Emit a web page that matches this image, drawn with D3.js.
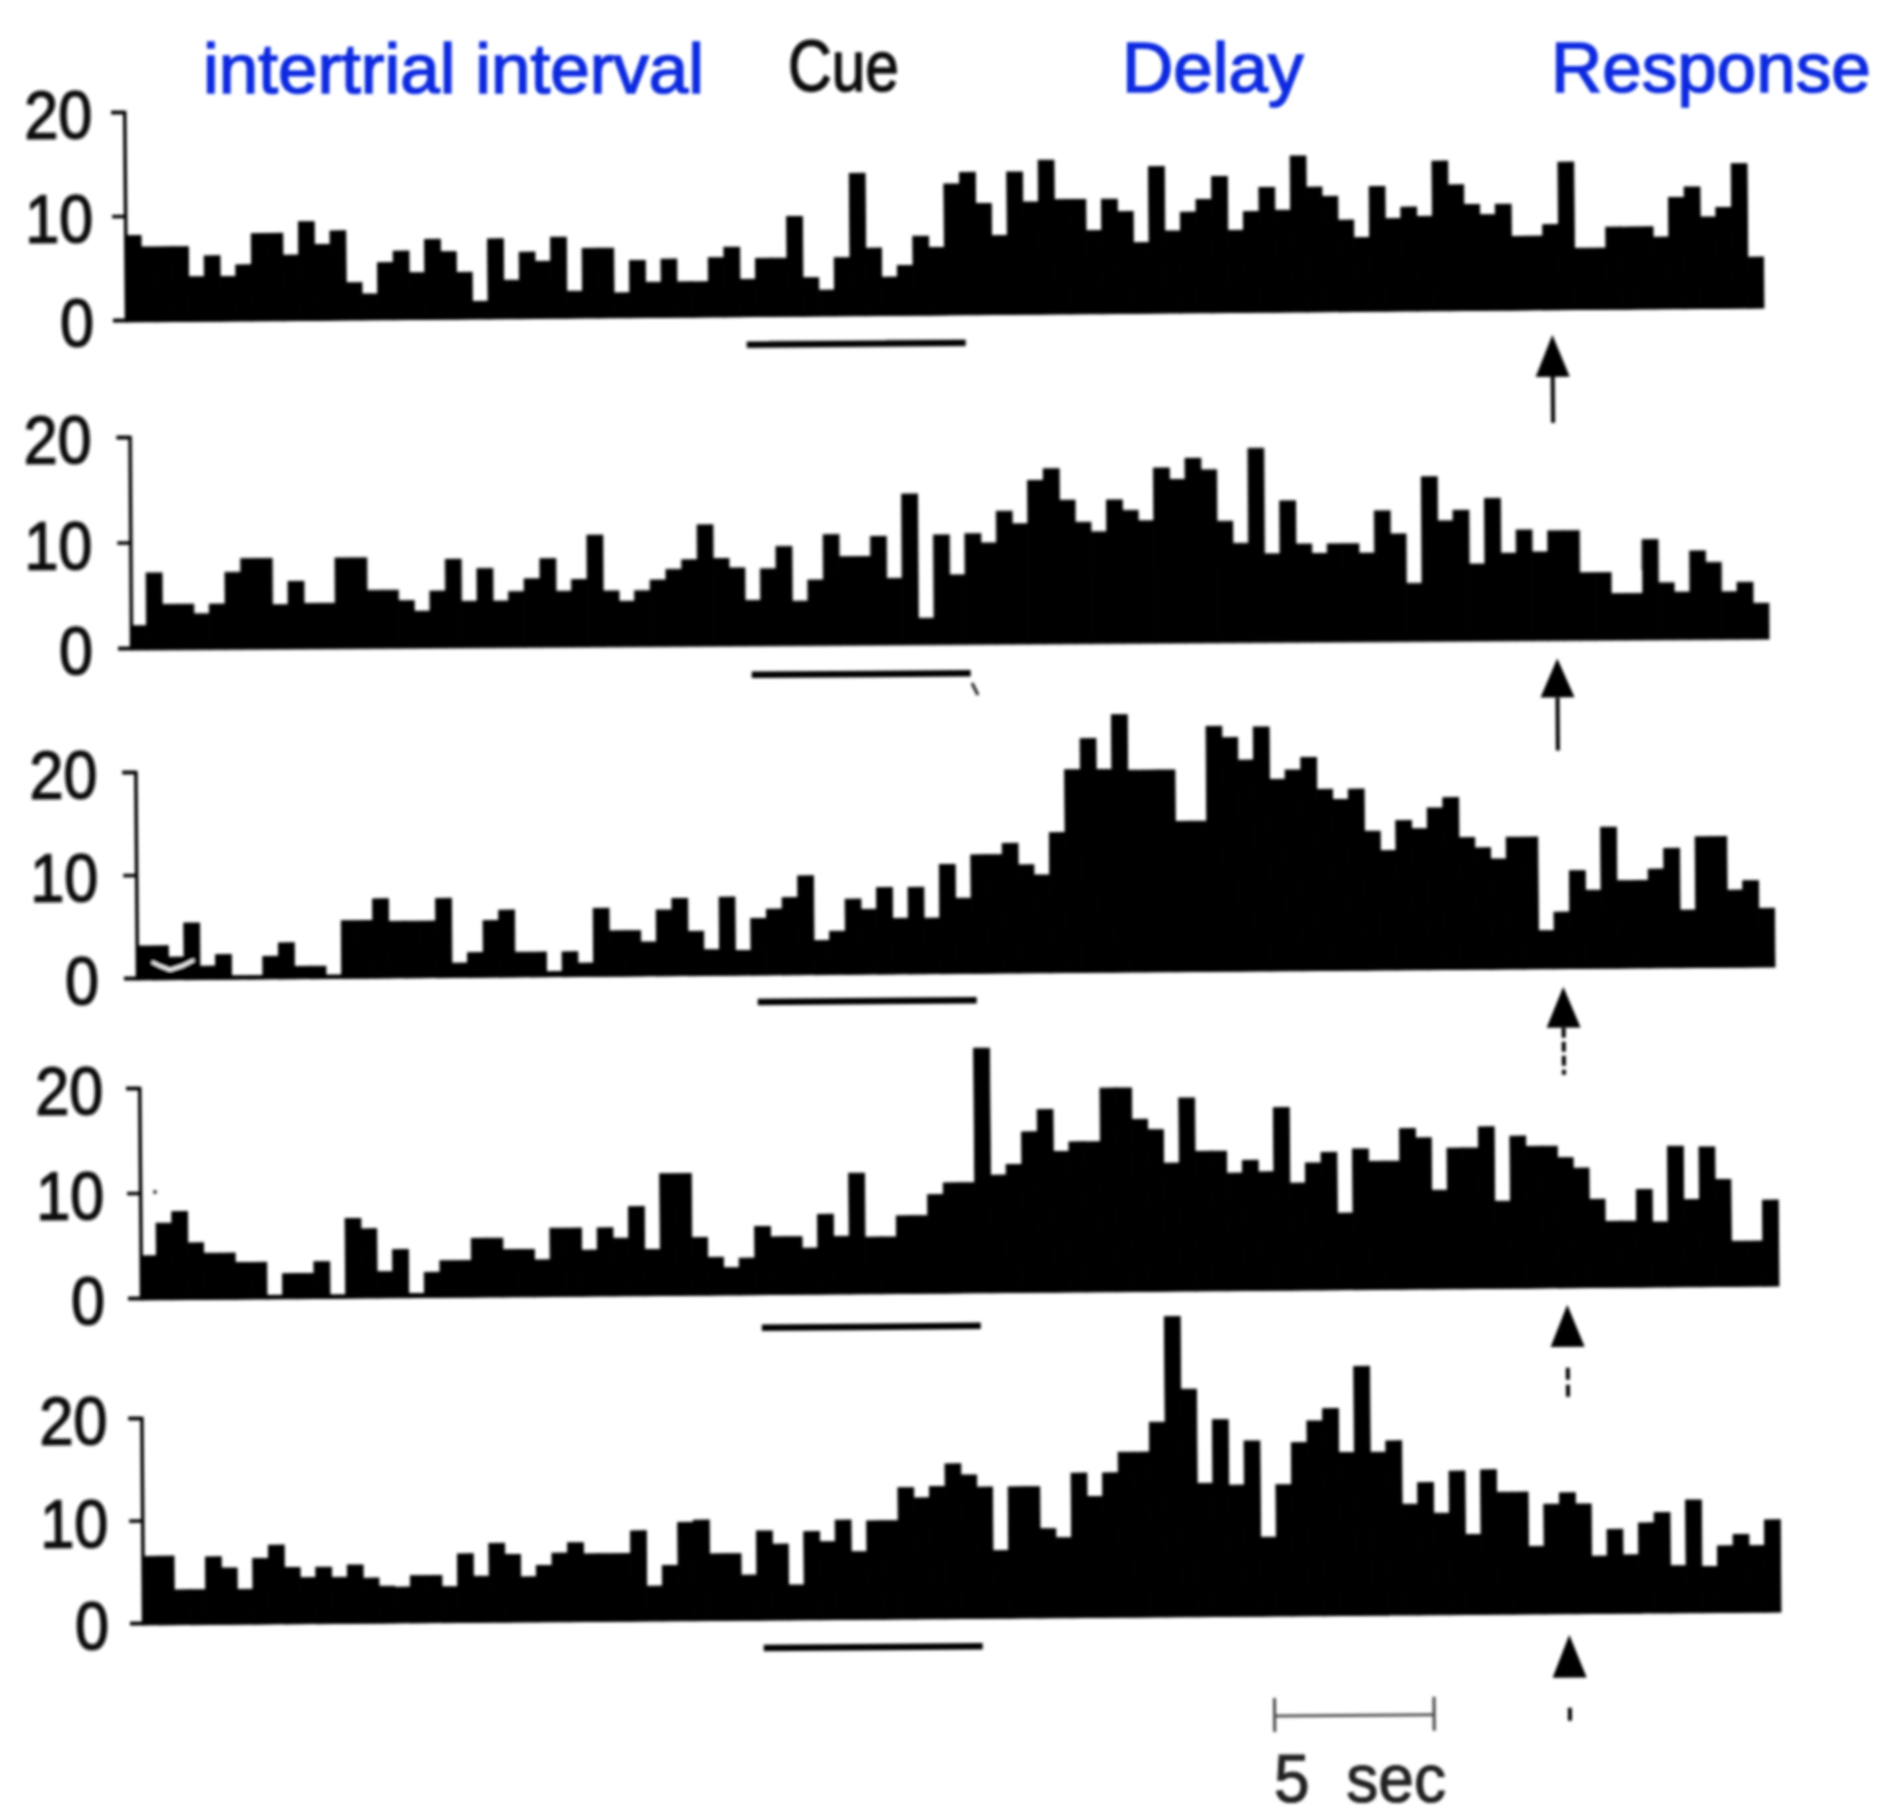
<!DOCTYPE html>
<html>
<head>
<meta charset="utf-8">
<script src="https://cdn.jsdelivr.net/npm/d3@7"></script>
<style>
  body { margin: 0; background: #fff; }
  text { font-family: "Liberation Sans", Arial, sans-serif; }
</style>
</head>
<body>
<div class="content"></div>
<script>
// spikes/s per 0.5 s bin, one list per histogram, top to bottom
const trialsA = [8.1,7,7,7,4.1,6.1,4.1,5.2,8.2,8.2,6.1,9.3,7.1,8.4,3.4,2.3,5.3,6.4,4.3,7.5,6.3,4.3,1.5,7.5,3.5,6.2,5.3,7.6,2.4,6.5,6.5,2.2,5.3,3.2,5.4,3.2,3.2,5.5,6.5,3.4,5.4,5.4,9.4,3.5,2.3,5.4,13.5,6.3,3.5,4.6,7.4,6.3,12.4,13.5,10.5,7.4,13.5,10.6,14.6,10.8,10.8,7.8,10.8,9.6,6.6,13.9,7.7,9.5,10.7,12.9,7.7,9.5,11.8,9.6,14.8,11.8,10.9,8.6,6.9,11.8,8.7,9.8,8.9,14.2,11.9,10,9,10,6.9,6.9,8,14,5.7,5.7,7.7,7.7,7.7,6.7,10.5,11.5,8.6,9.5,13.7,4.7];
const trialsB = [2.1,7.1,4.1,4.1,3.2,4.1,7.1,8.4,8.4,4,6.2,4.1,4.1,8.4,8.4,5.3,5.3,4.3,3.3,5.2,8.2,4.2,7.3,4.2,5.1,6.3,8.2,5.1,6.2,10.4,5.1,4.1,5.1,6.1,7.1,8,11.3,8.1,7.2,4.1,7.1,9.2,4,6,10.3,8.2,8.2,10.1,6.1,14.1,2.3,10.2,6.4,10.3,9.4,12.4,11.2,15.3,16.4,13.4,11.3,10.4,13.4,12.4,11.4,16.4,15.3,17.3,16.2,11.3,9.2,18.2,8.2,13.2,9.1,8.2,9.1,9.1,8.2,12.2,10,5.3,15.4,11.2,12.2,7.1,13.3,8.1,10.3,8.2,10.2,10.2,6.2,6.2,4.2,4.2,9.3,5.2,4.3,8.2,7.1,4.3,5.2,3.2];
const trialsC = [3.1,3.1,2,5.3,1.1,2.2,0,0,2,3.3,1,1,0,5.4,5.4,7.5,5.3,5.3,5.3,7.5,1.2,2.2,5.3,6.3,2.2,2.2,0.3,2.2,1.1,6.4,4.2,4.2,3.1,6.2,7.3,4.1,2.3,7.4,2.2,5.3,6.2,7.3,9.4,3.1,4,7.1,6.1,8.2,5.2,8.2,5.2,10.4,7.1,11.3,11.3,12.4,10.3,9.3,13.4,19.5,22.5,19.5,24.8,19.4,19.4,19.4,14.4,14.4,23.6,22.5,20.3,23.5,18.4,19.3,20.5,17.4,16.4,17.4,13.3,11.4,14.3,13.5,15.5,16.5,12.6,11.6,10.5,12.6,12.6,3.5,5.3,9.3,7.4,13.5,8.3,8.3,9.4,11.4,5.4,12.5,12.5,7.3,8.2,5.5];
const trialsD = [4,7.1,8.2,5.2,4.2,4.2,3.3,3.3,0,2.2,2.2,3.3,0,7.4,6.4,2.3,4.4,0.2,2.2,3.3,3.3,5.4,5.4,4.3,4.3,3.3,6.3,6.3,4.2,6.3,5.3,8.3,4.2,11.4,11.4,5.3,3.4,2.4,3.3,6.3,5.3,5.3,4.2,7.4,5.3,11.3,5.2,5.2,7.2,7.2,9.2,10.3,10.3,23.1,11,12,15.1,17.2,13.2,14.1,14.1,19.2,19.2,16.2,15.2,12,18.2,13.1,13.1,11,12.2,11.1,17.2,10,11.9,12.9,7.1,13.2,12,12,15.1,14.2,9.2,13.2,13.2,15.2,8.1,14.3,13.3,13.3,12.2,11.2,8.2,6.1,6.1,9.1,6,13.2,8.1,13.1,10,4.1,4.1,8];
const trialsE = [6.5,6.5,3.2,3.2,6.4,5.3,3.2,6.2,7.5,5.3,4.3,5.3,4.3,5.5,4.2,3.4,3.3,4.4,4.4,3.3,6.5,4.3,7.5,6.4,4.2,5.3,6.5,7.5,6.4,6.4,6.4,8.6,3.2,5.2,9.4,9.6,6.3,6.3,4.2,8.5,7.2,3.2,8.4,7.4,9.5,6.4,9.4,9.4,12.6,11.6,12.7,14.9,13.8,12.6,6.4,12.6,12.6,8.5,7.6,13.9,11.6,13.9,15.9,15.9,18.8,29.1,22,12.8,19,12.6,16.9,7.5,12.6,16.7,18.8,20,15.7,24.1,15.7,16.8,10.6,12.7,9.7,13.8,7.6,13.9,11.7,11.7,6.4,10.5,11.6,10.5,5.4,8,5.5,8.6,9.6,4.4,10.8,4.3,6.3,7.4,6.3,8.8];
const histograms = [trialsA, trialsB, trialsC, trialsD, trialsE];

const yTicks = [0, 10, 20];
const cueBins = [39.4, 53.3];
const responseBin = 90.55;
const scaleSeconds = 5;
const binsPerSecond = 2;

// the scan is slightly skewed, so each panel keeps its own origin and tilt
const panelX = [126, 131, 137, 141, 143];
const panelBase = [320, 648, 978, 1298, 1623];
const panelHeight = [208, 211, 206, 210, 205];
const panelTilt = [-0.49, -0.385, -0.455, -0.49, -0.454];
const labelGap = [19, 25, 25, 23, 21];
const cueOffset = [30, 31, 29, 35, 30];
const arrowTip = [27, 20, 20, 19, 23];
const arrowBase = [69, 59, 61, 61, 66];
const stemStart = [69, 59, 61, 82, 96];
const stemEnd = [115, 112, 108, 112, 109];
const stemDash = ["none", "none", "10 4", "12 5", "none"];

const plotWidth = 1638;
const binCount = trialsA.length;

const headings = [
  { label: "intertrial interval", x: 203, y: 93, fill: "#0a2be0" },
  { label: "Delay", x: 1122, y: 92, fill: "#0a2be0" },
  { label: "Response", x: 1551, y: 92, fill: "#0a2be0" },
];

const svg = d3
  .select(".content")
  .append("svg")
  .attr("width", 1878)
  .attr("height", 1818)
  .style("display", "block");

// soft edges like the photocopy
svg
  .append("defs")
  .append("filter")
  .attr("id", "scan")
  .attr("filterUnits", "userSpaceOnUse")
  .attr("x", 0)
  .attr("y", 0)
  .attr("width", 1878)
  .attr("height", 1818)
  .append("feGaussianBlur")
  .attr("stdDeviation", 1.5);

const page = svg.append("g").attr("filter", "url(#scan)");

const x = d3.scaleLinear().domain([0, binCount]).range([0, plotWidth]);

histograms.forEach((values, p) => {
  let y = d3.scaleLinear().domain([0, 20]).range([0, -panelHeight[p]]);

  let group = page
    .append("g")
    .attr("transform", `translate(${panelX[p]},${panelBase[p]}) rotate(${panelTilt[p]})`);

  group
    .selectAll("rect")
    .data(values)
    .enter()
    .append("rect")
    .attr("x", (d, i) => x(i))
    .attr("width", (d, i) => x(i + 1) - x(i))
    .attr("y", (d) => y(d))
    .attr("height", (d) => y(0) - y(d) + 2)
    .attr("fill", "#000")
    .attr("stroke", "#000")
    .attr("stroke-width", 1);

  // baseline
  group
    .append("line")
    .attr("x1", x(0))
    .attr("x2", x(binCount))
    .attr("y1", y(0))
    .attr("y2", y(0))
    .attr("stroke", "#000")
    .attr("stroke-width", 4);

  // axis with the big typed labels
  let axis = group.append("g").call(
    d3
      .axisLeft(y)
      .tickValues(yTicks)
      .tickSize(13)
      .tickPadding(labelGap[p])
      .tickFormat(d3.format("d"))
  );
  axis.selectAll("path, line").attr("stroke", "#000").attr("stroke-width", 3.5);
  axis
    .selectAll("text")
    .attr("dy", "0.38em")
    .attr("fill", "#111")
    .attr("stroke", "#111")
    .attr("stroke-width", 1.6)
    .style("font-size", "68px")
    .style("font-family", '"Liberation Sans", Arial, sans-serif')
    .attr("textLength", (d) => (d == 0 ? 34 : 68))
    .attr("lengthAdjust", "spacingAndGlyphs");

  // cue bar
  group
    .append("line")
    .attr("x1", x(cueBins[0]))
    .attr("x2", x(cueBins[1]))
    .attr("y1", cueOffset[p])
    .attr("y2", cueOffset[p])
    .attr("stroke", "#000")
    .attr("stroke-width", 6.5);

  // response arrow
  let ax = x(responseBin);
  group
    .append("path")
    .attr("d", d3.line()([[ax, arrowTip[p]], [ax + 17, arrowBase[p]], [ax - 17, arrowBase[p]]]) + "Z")
    .attr("fill", "#000");
  group
    .append("line")
    .attr("x1", ax)
    .attr("x2", ax)
    .attr("y1", stemStart[p])
    .attr("y2", stemEnd[p])
    .attr("stroke", "#000")
    .attr("stroke-width", 4)
    .attr("stroke-dasharray", stemDash[p]);
});

// headings
page
  .selectAll(".heading")
  .data(headings)
  .enter()
  .append("text")
  .attr("class", "heading")
  .attr("x", (d) => d.x)
  .attr("y", (d) => d.y)
  .attr("fill", (d) => d.fill)
  .attr("stroke", (d) => d.fill)
  .attr("stroke-width", 1.6)
  .style("font-size", "71px")
  .text((d) => d.label);

page
  .append("text")
  .attr("x", 788)
  .attr("y", 91)
  .attr("fill", "#111")
  .attr("stroke", "#111")
  .attr("stroke-width", 1.6)
  .attr("textLength", 111)
  .attr("lengthAdjust", "spacingAndGlyphs")
  .style("font-size", "72px")
  .text("Cue");

// 5 sec scale bar, drawn in the last panel's frame
const scaleGroup = page
  .append("g")
  .attr("transform", `translate(${panelX[4]},${panelBase[4]}) rotate(${panelTilt[4]})`);
const scaleStart = 71.8;
const scaleEnd = scaleStart + scaleSeconds * binsPerSecond;

scaleGroup
  .append("line")
  .attr("x1", x(scaleStart))
  .attr("x2", x(scaleEnd) + 2)
  .attr("y1", 102)
  .attr("y2", 102)
  .attr("stroke", "#555")
  .attr("stroke-width", 3);

[scaleStart, scaleEnd].forEach((bin, i) => {
  scaleGroup
    .append("line")
    .attr("x1", x(bin) + i * 2)
    .attr("x2", x(bin) + i * 2)
    .attr("y1", 84)
    .attr("y2", 118)
    .attr("stroke", "#444")
    .attr("stroke-width", 3);
});

page
  .append("text")
  .attr("x", 1274)
  .attr("y", 1802)
  .attr("fill", "#222")
  .attr("stroke", "#222")
  .attr("stroke-width", 1.2)
  .attr("textLength", 172)
  .attr("lengthAdjust", "spacingAndGlyphs")
  .style("font-size", "68px")
  .style("word-spacing", "20px")
  .text("5 sec");

// scan specks
page
  .append("line")
  .attr("x1", 972)
  .attr("y1", 683)
  .attr("x2", 978)
  .attr("y2", 695)
  .attr("stroke", "#222")
  .attr("stroke-width", 3);
page
  .append("circle")
  .attr("cx", 155)
  .attr("cy", 1192)
  .attr("r", 2)
  .attr("fill", "#333");
// worn patch inside the first bins of the third panel
page
  .append("path")
  .attr("d", d3.line()([[152, 962], [160, 966], [170, 970], [182, 966], [194, 960]]))
  .attr("fill", "none")
  .attr("stroke", "#fff")
  .attr("stroke-width", 3);
</script>
</body>
</html>
